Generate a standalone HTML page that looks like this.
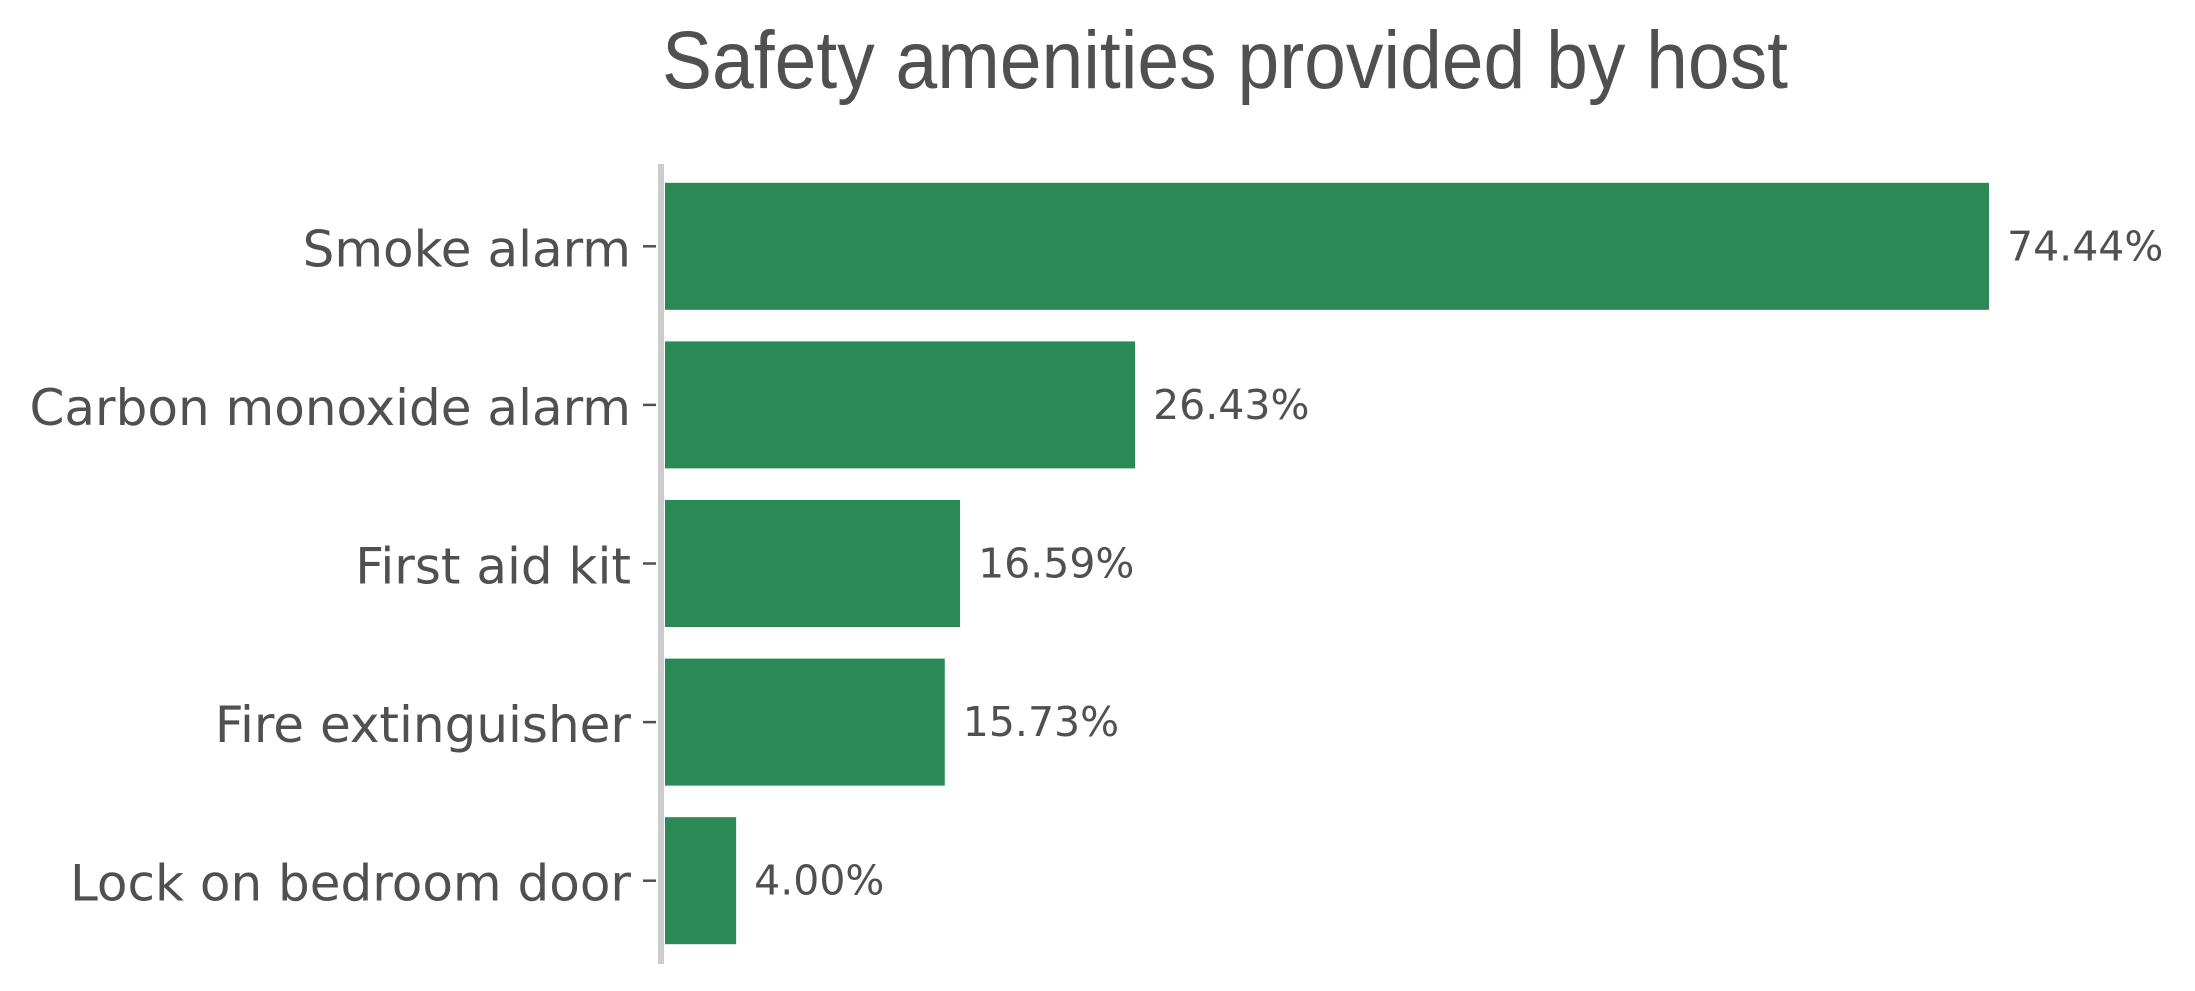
<!DOCTYPE html>
<html><head><meta charset="utf-8"><style>
html,body{margin:0;padding:0;background:#fff;}
svg{display:block;}
</style></head><body>
<svg id="chart" width="2195" height="991" xmlns="http://www.w3.org/2000/svg">
<text x="662" y="88" font-family="Liberation Sans, sans-serif" font-size="82" fill="#505050" textLength="1126" lengthAdjust="spacingAndGlyphs">Safety amenities provided by host</text>
<g id="bars"></g>
<rect x="658" y="164" width="6" height="800" fill="#cccccc"/>
</svg>
<script>
const categories = ["Smoke alarm","Carbon monoxide alarm","First aid kit","Fire extinguisher","Lock on bedroom door"];
const values = [74.44, 26.43, 16.59, 15.73, 4.00];
const valueLabels = ["74.44%","26.43%","16.59%","15.73%","4.00%"];

const NS = "http://www.w3.org/2000/svg";
const x0 = 665, pxPer = 1324/74.44;
const xScale = v => x0 + v*pxPer;
const top0 = 167, step = 158.6, barH = 127;
const yCenter = i => top0 + step*i + step/2;
const g = document.getElementById('bars');
categories.forEach((c,i)=>{
  const cy = yCenter(i);
  const r = document.createElementNS(NS,'rect');
  r.setAttribute('x', x0);
  r.setAttribute('y', cy - barH/2);
  r.setAttribute('width', xScale(values[i]) - x0);
  r.setAttribute('height', barH);
  r.setAttribute('fill', '#2a8955');
  
  
  g.appendChild(r);

  const t = document.createElementNS(NS,'text');
  t.setAttribute('x', xScale(values[i]) + 18);
  t.setAttribute('y', cy);
  t.setAttribute('dominant-baseline', 'central');
  t.setAttribute('font-family', 'DejaVu Sans, sans-serif');
  t.setAttribute('font-size', '41');
  t.setAttribute('fill', '#505050');
  t.textContent = valueLabels[i];
  
  
  g.appendChild(t);

  const tk = document.createElementNS(NS,'line');
  tk.setAttribute('x1', 643); tk.setAttribute('x2', 656);
  tk.setAttribute('y1', cy); tk.setAttribute('y2', cy);
  tk.setAttribute('stroke', '#505050'); tk.setAttribute('stroke-width', '2.5');
  
  
  g.appendChild(tk);

  const l = document.createElementNS(NS,'text');
  l.setAttribute('x', 631);
  l.setAttribute('y', cy + 3);
  l.setAttribute('text-anchor', 'end');
  l.setAttribute('dominant-baseline', 'central');
  l.setAttribute('font-family', 'DejaVu Sans, sans-serif');
  l.setAttribute('font-size', '50');
  l.setAttribute('fill', '#505050');
  l.textContent = c;
  
  
  g.appendChild(l);
});
</script>
</body></html>
